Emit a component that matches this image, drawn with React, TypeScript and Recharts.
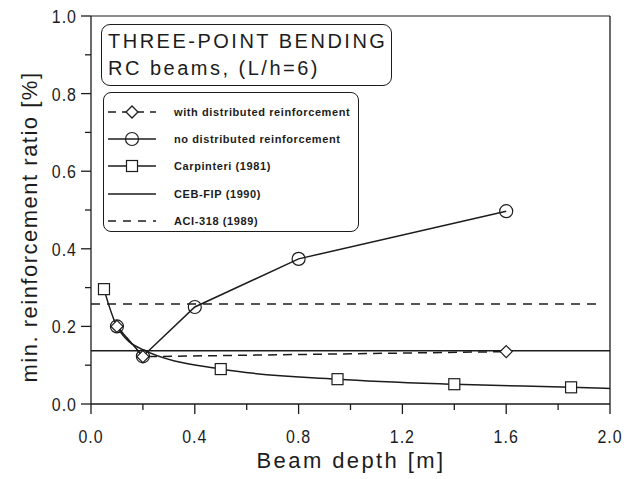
import React from 'react';
import { ComposedChart, Line, Scatter, XAxis, YAxis, ReferenceLine } from 'recharts';

// with distributed reinforcement (diamonds, dashed)
const withDistributed = [
  { x: 0.1, y: 0.2 },
  { x: 0.2, y: 0.122 },
  { x: 1.6, y: 0.135 },
];

// no distributed reinforcement (circles, solid)
const noDistributed = [
  { x: 0.1, y: 0.2 },
  { x: 0.2, y: 0.123 },
  { x: 0.4, y: 0.25 },
  { x: 0.8, y: 0.374 },
  { x: 1.6, y: 0.497 },
];

// Carpinteri (1981): curve + square markers
const carpinteriCurve = [
  { x: 0.05, y: 0.296 },
  { x: 0.1, y: 0.2 },
  { x: 0.2, y: 0.14 },
  { x: 0.5, y: 0.09 },
  { x: 0.95, y: 0.064 },
  { x: 1.4, y: 0.051 },
  { x: 1.85, y: 0.043 },
  { x: 2.0, y: 0.04 },
];
const carpinteriMarks = [
  { x: 0.05, y: 0.296 },
  { x: 0.5, y: 0.09 },
  { x: 0.95, y: 0.064 },
  { x: 1.4, y: 0.051 },
  { x: 1.85, y: 0.043 },
];

// CEB-FIP (1990) and ACI-318 (1989) limits
const cebFip = [
  { x: 0, y: 0.137 },
  { x: 2.0, y: 0.137 },
];
const aci318 = [
  { x: 0, y: 0.258 },
  { x: 1.95, y: 0.258 },
];

const xTicks = [0, 0.2, 0.4, 0.6, 0.8, 1.0, 1.2, 1.4, 1.6, 1.8, 2.0];
const xLabels = [0, 0.4, 0.8, 1.2, 1.6, 2.0];
const yTicks = [0, 0.1, 0.2, 0.3, 0.4, 0.5, 0.6, 0.7, 0.8, 0.9, 1.0];
const yLabels = [0, 0.2, 0.4, 0.6, 0.8, 1.0];

const legendItems = [
  { name: 'with distributed reinforcement', kind: 'diamond' },
  { name: 'no distributed reinforcement', kind: 'circle' },
  { name: 'Carpinteri (1981)', kind: 'square' },
  { name: 'CEB-FIP (1990)', kind: 'solid' },
  { name: 'ACI-318 (1989)', kind: 'dashed' },
];

const INK = '#1c1c1c';
const FONT = '"Liberation Sans", Arial, sans-serif';

const isLabel = (v: number, list: number[]) => list.some((l) => Math.abs(l - v) < 1e-6);

// tick numbers in the scan are slightly condensed
const XTick = (props: any) => {
  const { x, y, payload } = props;
  const major = isLabel(payload.value, xLabels);
  return (
    <g>
      <line x1={x} x2={x} y1={y} y2={y + (major ? 10 : 6)} stroke={INK} strokeWidth={1.3} />
      {major && (
        <text
          transform={`translate(${x}, ${y + 39}) scale(0.84, 1)`}
          textAnchor="middle"
          fontSize={19}
          fill={INK}
          fontFamily={FONT}
          letterSpacing={1.2}
        >
          {payload.value.toFixed(1)}
        </text>
      )}
    </g>
  );
};

const YTick = (props: any) => {
  const { x, y, payload } = props;
  const major = isLabel(payload.value, yLabels);
  return (
    <g>
      <line x1={x - (major ? 10 : 6)} x2={x} y1={y} y2={y} stroke={INK} strokeWidth={1.3} />
      {major && (
        <text
          transform={`translate(${x - 14}, ${y + 7}) scale(0.84, 1)`}
          textAnchor="end"
          fontSize={19}
          fill={INK}
          fontFamily={FONT}
          letterSpacing={1.2}
        >
          {payload.value.toFixed(1)}
        </text>
      )}
    </g>
  );
};

const YTitle = () => (
  <text
    transform="translate(37, 227) rotate(-90)"
    textAnchor="middle"
    fontSize={22}
    fill={INK}
    fontFamily={FONT}
    letterSpacing={1.5}
  >
    min. reinforcement ratio [%]
  </text>
);

const XTitle = () => (
  <text x={351} y={468} textAnchor="middle" fontSize={22} fill={INK} fontFamily={FONT} letterSpacing={2.4}>
    Beam depth [m]
  </text>
);

const Diamond = ({ cx, cy }: any) =>
  cx == null ? null : (
    <path d={`M${cx},${cy - 6} L${cx + 6},${cy} L${cx},${cy + 6} L${cx - 6},${cy} Z`} fill="#fff" stroke={INK} strokeWidth={1.2} />
  );
const Circle = ({ cx, cy }: any) =>
  cx == null ? null : <circle cx={cx} cy={cy} r={6.5} fill="none" stroke={INK} strokeWidth={1.2} />;
const Square = (props: any) => {
  const { cx, cy } = props;
  if (cx == null) return null;
  return <rect x={cx - 5.5} y={cy - 5.5} width={11} height={11} fill="#fff" stroke={INK} strokeWidth={1.2} />;
};

const LegendSymbol = ({ kind }: { kind: string }) => (
  <svg width={52} height={16} style={{ display: 'block' }}>
    {kind === 'diamond' && (
      <>
        <line x1={2} x2={50} y1={8} y2={8} stroke={INK} strokeWidth={1.5} strokeDasharray="8 6" />
        <path d="M26,2 L32,8 L26,14 L20,8 Z" fill="#fff" stroke={INK} strokeWidth={1.3} />
      </>
    )}
    {kind === 'circle' && (
      <>
        <line x1={2} x2={50} y1={8} y2={8} stroke={INK} strokeWidth={1.3} />
        <circle cx={26} cy={8} r={6.5} fill="none" stroke={INK} strokeWidth={1.2} />
      </>
    )}
    {kind === 'square' && (
      <>
        <line x1={2} x2={50} y1={8} y2={8} stroke={INK} strokeWidth={1.3} />
        <rect x={20.5} y={2.5} width={11} height={11} fill="#fff" stroke={INK} strokeWidth={1.2} />
      </>
    )}
    {kind === 'solid' && <line x1={2} x2={50} y1={8} y2={8} stroke={INK} strokeWidth={1.3} />}
    {kind === 'dashed' && <line x1={2} x2={50} y1={8} y2={8} stroke={INK} strokeWidth={1.3} strokeDasharray="8 7" />}
  </svg>
);

const App = () => {
  return (
    <div style={{ position: 'absolute', left: 0, top: 0, width: 626, height: 479, background: '#fff', fontFamily: FONT }}>
      <ComposedChart width={626} height={479} margin={{ top: 16, right: 16, bottom: 0, left: 0 }}>
        <XAxis
          type="number"
          dataKey="x"
          domain={[0, 2]}
          ticks={xTicks}
          tick={<XTick />}
          tickLine={false}
          tickSize={0}
          tickMargin={0}
          height={75}
          axisLine={{ stroke: INK, strokeWidth: 1.3 }}
          allowDuplicatedCategory={false}
          label={<XTitle />}
        />
        <YAxis
          type="number"
          dataKey="y"
          domain={[0, 1]}
          ticks={yTicks}
          tick={<YTick />}
          tickLine={false}
          tickSize={0}
          tickMargin={0}
          width={91}
          axisLine={{ stroke: INK, strokeWidth: 1.3 }}
          label={<YTitle />}
        />
        <ReferenceLine y={1} stroke={INK} strokeWidth={1.2} />
        <ReferenceLine x={2} stroke={INK} strokeWidth={1.3} />
        <Line data={aci318} dataKey="y" type="linear" stroke={INK} strokeWidth={1.5} strokeDasharray="9 7" dot={false} isAnimationActive={false} />
        <Line data={cebFip} dataKey="y" type="linear" stroke={INK} strokeWidth={1.5} dot={false} isAnimationActive={false} />
        <Line data={carpinteriCurve} dataKey="y" type="monotone" stroke={INK} strokeWidth={1.5} dot={false} isAnimationActive={false} />
        <Scatter data={carpinteriMarks} dataKey="y" shape={<Square />} isAnimationActive={false} />
        <Line data={withDistributed} dataKey="y" type="linear" stroke={INK} strokeWidth={1.5} strokeDasharray="9 6" dot={<Diamond />} isAnimationActive={false} />
        <Line data={noDistributed} dataKey="y" type="linear" stroke={INK} strokeWidth={1.5} dot={<Circle />} isAnimationActive={false} />
      </ComposedChart>

      <div
        style={{
          position: 'absolute', left: 101, top: 24, width: 291, height: 62, boxSizing: 'border-box',
          border: `1.3px solid ${INK}`, borderRadius: 9, background: '#fff', padding: '3px 0 0 6px',
          fontSize: 20, lineHeight: '27px', letterSpacing: 2.5, color: INK,
        }}
      >
        <div>THREE-POINT BENDING</div>
        <div>RC beams, (L/h=6)</div>
      </div>

      <div
        style={{
          position: 'absolute', left: 103, top: 92, width: 256, height: 140, boxSizing: 'border-box',
          border: `1.3px solid ${INK}`, borderRadius: 8, background: '#fff', padding: '5px 0 0 2px',
          fontSize: 11, fontWeight: 'bold', letterSpacing: 0.6, color: INK,
        }}
      >
        {legendItems.map((item) => (
          <div key={item.name} style={{ display: 'flex', alignItems: 'center', height: 27.4 }}>
            <LegendSymbol kind={item.kind} />
            <span style={{ marginLeft: 16 }}>{item.name}</span>
          </div>
        ))}
      </div>
    </div>
  );
};

export default App;
